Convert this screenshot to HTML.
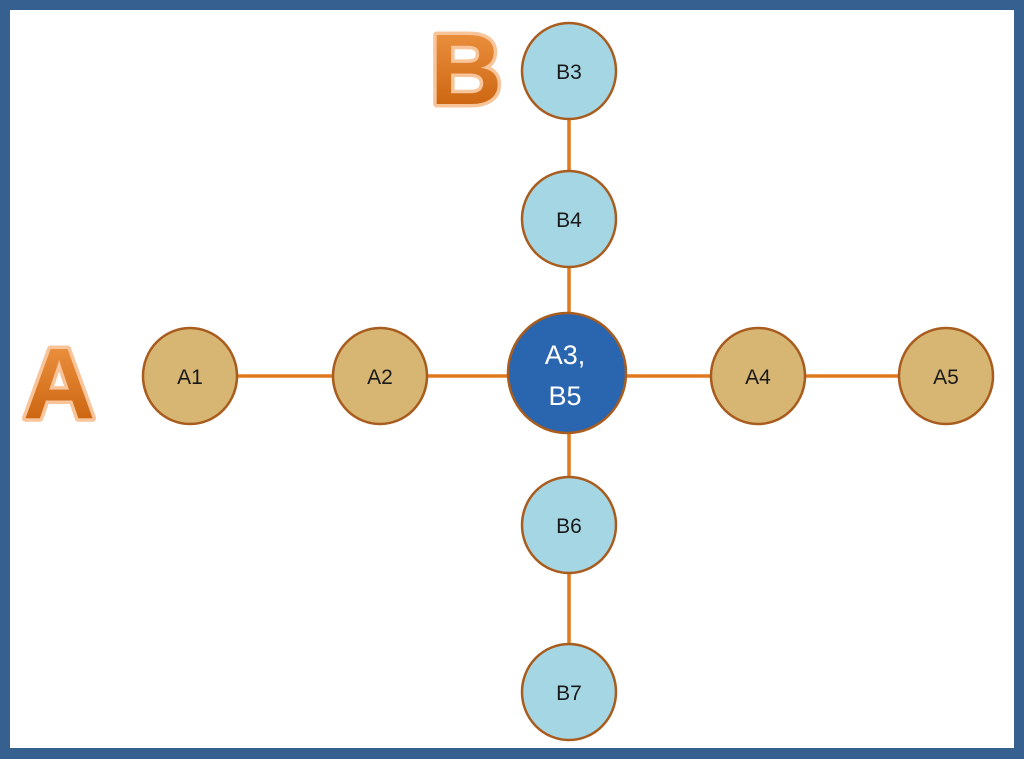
<!DOCTYPE html>
<html><head><style>
html,body{margin:0;padding:0;}
body{width:1024px;height:759px;background:#35608f;position:relative;overflow:hidden;}
.in{position:absolute;left:10px;top:10px;width:1004px;height:738px;background:#fff;}
svg{position:absolute;left:0;top:0;}
</style></head><body>
<div class="in"></div>
<svg width="1024" height="759" viewBox="0 0 1024 759">
<defs>
<linearGradient id="og" x1="0" y1="0" x2="0" y2="1">
<stop offset="0" stop-color="#f29a48"/><stop offset="1" stop-color="#c45a06"/>
</linearGradient>
</defs>
<g stroke="#e07a1e" stroke-width="3.5">
<line x1="190" y1="376" x2="946" y2="376"/>
<line x1="569" y1="71" x2="569" y2="692"/>
</g>
<g fill="#d7b673" stroke="#a85c1e" stroke-width="2.5">
<ellipse cx="190" cy="376" rx="47" ry="48"/>
<ellipse cx="380" cy="376" rx="47" ry="48"/>
<ellipse cx="758" cy="376" rx="47" ry="48"/>
<ellipse cx="946" cy="376" rx="47" ry="48"/>
</g>
<g fill="#a5d6e4" stroke="#a85c1e" stroke-width="2.5">
<ellipse cx="569" cy="71" rx="47" ry="48"/>
<ellipse cx="569" cy="219" rx="47" ry="48"/>
<ellipse cx="569" cy="525" rx="47" ry="48"/>
<ellipse cx="569" cy="692" rx="47" ry="48"/>
</g>
<ellipse cx="567" cy="373" rx="59" ry="60" fill="#2a65b0" stroke="#a85c1e" stroke-width="2.5"/>
<g font-family="Liberation Sans, sans-serif" font-size="21" fill="#1a1a1a" text-anchor="middle">
<text x="190" y="384">A1</text><text x="380" y="384">A2</text>
<text x="758" y="384">A4</text><text x="946" y="384">A5</text>
<text x="569" y="79">B3</text><text x="569" y="227">B4</text>
<text x="569" y="533">B6</text><text x="569" y="700">B7</text>
</g>
<g font-family="Liberation Sans, sans-serif" font-size="27" fill="#fff" text-anchor="middle">
<text x="565" y="364">A3,</text><text x="565" y="405">B5</text>
</g>
<g font-family="Liberation Sans, sans-serif" font-weight="bold" font-size="100" fill="url(#og)" stroke="#f8c49a" stroke-width="7" paint-order="stroke" stroke-linejoin="round">
<text x="430" y="104">B</text>
<text x="23" y="418">A</text>
</g>
</svg>
</body></html>
